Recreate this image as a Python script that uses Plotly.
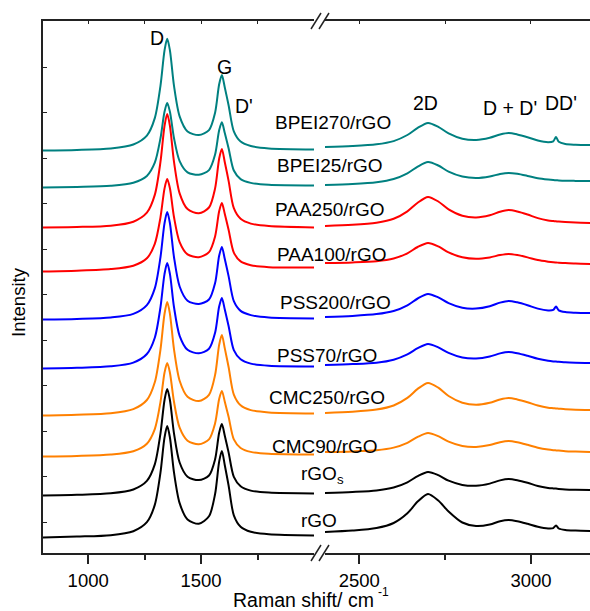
import plotly.graph_objects as go

# Raman shift grids (cm^-1) for the two panels of the broken axis
shift_low = [800, 950, 1100, 1200, 1260, 1295, 1320, 1338, 1350, 1362, 1380, 1405, 1440,
             1490, 1535, 1562, 1580, 1592, 1605, 1622, 1645, 1675, 1720, 1800, 2000]
shift_high = [2400, 2480, 2550, 2600, 2640, 2670, 2700, 2730, 2760, 2800, 2840, 2880,
              2910, 2935, 2960, 2990, 3020, 3050, 3065, 3073, 3081, 3100, 3130, 3172]

# Stacked intensities (offset, arbitrary units), D/G region
bpei270_low = [402.5, 403.1, 404.6, 408.5, 417.4, 434.9, 466.9, 502.4, 514.2, 502.7, 467.4, 436.7, 421.6,
               417.9, 422.9, 440.3, 468.7, 478.0, 465.5, 447.5, 421.6, 411.4, 407.0, 404.6, 403.6]
bpei25_low = [365.4, 366.1, 367.3, 370.3, 377.1, 390.3, 414.5, 441.2, 450.1, 441.3, 415.0, 391.9, 380.7,
              378.2, 382.9, 398.4, 422.7, 430.7, 419.9, 404.5, 382.5, 373.9, 370.1, 368.2, 367.5]
paa250_low = [325.6, 326.0, 327.3, 331.3, 340.3, 358.1, 390.8, 426.9, 439.0, 427.1, 391.3, 359.6, 343.9,
              339.7, 345.5, 364.6, 394.3, 404.0, 390.8, 371.9, 344.8, 334.2, 329.4, 326.9, 325.6]
paa100_low = [281.5, 282.3, 283.9, 287.3, 294.7, 309.2, 335.4, 364.4, 374.0, 364.7, 336.0, 310.9, 298.6,
              295.8, 300.9, 316.6, 341.8, 350.0, 339.0, 323.0, 300.4, 291.6, 287.8, 285.8, 285.5]
pss200_low = [233.5, 234.1, 235.5, 239.1, 247.9, 264.6, 295.5, 329.6, 341.0, 329.8, 296.0, 266.5, 252.3,
              249.0, 253.5, 269.9, 297.2, 306.0, 293.9, 276.6, 251.8, 242.1, 237.9, 235.5, 234.6]
pss70_low = [184.5, 185.2, 186.7, 190.4, 199.0, 215.3, 245.5, 278.9, 289.9, 279.1, 246.0, 217.2, 203.2,
             199.7, 204.2, 220.2, 246.4, 255.0, 243.4, 226.8, 202.9, 193.7, 189.4, 187.3, 186.6]
cmc250_low = [137.5, 138.3, 139.8, 143.9, 153.0, 170.7, 203.2, 239.0, 251.0, 239.2, 203.8, 172.3, 156.3,
              151.9, 158.2, 178.1, 208.1, 218.0, 204.6, 185.7, 158.4, 147.7, 142.9, 140.6, 139.6]
cmc90_low = [96.5, 97.1, 98.5, 101.8, 109.3, 123.9, 150.7, 180.2, 190.0, 180.3, 151.2, 125.3, 112.3,
             108.7, 113.7, 129.7, 154.1, 162.0, 151.3, 135.9, 113.6, 105.0, 101.1, 99.3, 98.5]
rgos_low = [57.5, 58.2, 59.7, 63.5, 72.1, 88.6, 119.2, 152.8, 164.0, 153.0, 119.7, 90.5, 76.3,
            72.9, 77.5, 93.7, 120.3, 129.0, 117.2, 100.4, 76.2, 66.8, 62.4, 60.4, 59.6]
rgo_low = [15.5, 16.4, 17.8, 21.8, 30.8, 48.1, 80.1, 115.3, 126.9, 115.5, 80.7, 49.9, 33.6,
           29.2, 36.7, 59.0, 91.4, 102.0, 87.7, 67.3, 37.7, 26.3, 21.2, 18.7, 17.6]

# Stacked intensities, 2D / D+D' / DD' region
bpei270_high = [406.0, 407.0, 408.7, 411.9, 418.0, 425.1, 430.1, 426.2, 419.6, 414.3, 413.0, 415.2,
                418.5, 420.0, 418.6, 415.8, 412.5, 410.8, 411.7, 416.0, 411.3, 409.0, 408.3, 408.0]
bpei25_high = [367.9, 369.0, 370.8, 374.0, 379.7, 386.4, 391.0, 387.5, 381.3, 376.4, 375.0, 376.5,
               379.0, 380.1, 379.2, 377.1, 374.8, 373.4, 372.9, 372.8, 372.6, 372.3, 372.1, 371.9]
paa250_high = [327.0, 328.2, 330.3, 334.2, 341.7, 350.3, 356.1, 351.5, 343.6, 337.2, 335.5, 337.7,
               341.3, 342.9, 341.5, 338.5, 334.9, 332.6, 332.0, 331.7, 331.4, 330.9, 330.4, 330.1]
paa100_high = [290.0, 290.6, 291.8, 294.5, 299.7, 306.0, 310.1, 306.6, 300.6, 295.7, 294.2, 295.6,
               297.9, 299.0, 297.9, 295.6, 292.9, 291.3, 290.7, 290.5, 290.3, 289.9, 289.4, 289.0]
pss200_high = [236.0, 237.1, 238.9, 242.0, 247.7, 254.5, 259.1, 255.6, 249.8, 245.2, 244.4, 246.8,
               250.4, 252.1, 250.7, 247.8, 244.4, 242.6, 243.1, 246.4, 242.6, 240.9, 240.3, 240.0]
pss70_high = [188.0, 188.9, 190.3, 193.3, 198.6, 204.8, 209.1, 205.7, 200.1, 195.5, 194.5, 196.5,
              199.6, 201.0, 199.8, 197.2, 194.2, 192.2, 191.6, 191.4, 191.3, 190.7, 190.3, 190.1]
cmc250_high = [140.0, 141.2, 143.4, 147.5, 155.1, 164.1, 170.1, 165.3, 157.0, 150.3, 148.2, 150.2,
               153.5, 155.0, 153.6, 150.8, 147.5, 145.3, 144.8, 144.5, 144.3, 143.8, 143.3, 143.1]
cmc90_high = [101.0, 101.6, 102.8, 105.4, 110.2, 116.1, 120.0, 116.8, 111.4, 107.1, 106.1, 107.9,
              110.8, 112.0, 110.8, 108.2, 105.3, 103.4, 102.8, 102.6, 102.4, 101.8, 101.4, 101.0]
rgos_high = [60.0, 61.0, 62.5, 65.5, 70.7, 76.9, 81.1, 77.9, 72.3, 68.1, 67.2, 69.4,
             72.6, 74.0, 72.8, 70.2, 67.0, 65.1, 64.6, 64.4, 64.1, 63.6, 63.3, 63.1]
rgo_high = [21.0, 22.4, 24.9, 30.0, 39.7, 51.4, 59.1, 52.5, 41.5, 30.5, 27.0, 28.5,
            31.8, 33.0, 31.8, 29.2, 26.3, 24.6, 24.9, 27.5, 24.5, 23.0, 22.4, 22.1]

sample_names = ["BPEI270/rGO", "BPEI25/rGO", "PAA250/rGO", "PAA100/rGO", "PSS200/rGO",
                "PSS70/rGO", "CMC250/rGO", "CMC90/rGO", "rGO<sub>s</sub>", "rGO"]
tick_low = [1000, 1500]
tick_low_minor = [1250, 1750]
tick_high = [2500, 3000]
tick_high_minor = [2750]

TEAL, RED, BLUE, ORANGE, BLACK = "#008080", "#FF0000", "#0000FF", "#FF8000", "#000000"
colors = [TEAL, TEAL, RED, RED, BLUE, BLUE, ORANGE, ORANGE, BLACK, BLACK]
lows = [bpei270_low, bpei25_low, paa250_low, paa100_low, pss200_low,
        pss70_low, cmc250_low, cmc90_low, rgos_low, rgo_low]
highs = [bpei270_high, bpei25_high, paa250_high, paa100_high, pss200_high,
         pss70_high, cmc250_high, cmc90_high, rgos_high, rgo_high]

FONT = "Arial, 'Liberation Sans', sans-serif"
AX = "#222222"
W, H = 590, 611
L, T, B = 43, 21, 58
PW, PH = W - L, H - T - B


def px(x):
    return (x - L) / PW


def py(y):
    return (H - B - y) / PH


fig = go.Figure()
for name, c, lo, hi in zip(sample_names, colors, lows, highs):
    fig.add_trace(go.Scatter(x=shift_low, y=lo, mode="lines", xaxis="x", yaxis="y",
                             line=dict(color=c, width=2, shape="spline", smoothing=0.8),
                             name=name, showlegend=False, hoverinfo="skip"))
    fig.add_trace(go.Scatter(x=shift_high, y=hi, mode="lines", xaxis="x2", yaxis="y",
                             line=dict(color=c, width=2, shape="spline", smoothing=0.8),
                             name=name, showlegend=False, hoverinfo="skip"))

d_left = [0, px(314)]
d_right = [px(325), 1]

bottom_common = dict(showline=True, linecolor=AX, linewidth=1.5, ticks="outside", ticklen=9,
                     tickwidth=1.5, tickcolor=AX, showgrid=False, zeroline=False, anchor="y",
                     tickfont=dict(family=FONT, size=18.5, color="#000"), tickmode="array",
                     ticklabelstandoff=1)
top_common = dict(showline=True, linecolor=AX, linewidth=1.5, ticks="inside", ticklen=3,
                  tickwidth=1.2, tickcolor=AX, showgrid=False, zeroline=False, anchor="y",
                  side="top", showticklabels=False, tickmode="array")

fig.update_layout(
    width=W, height=H,
    margin=dict(l=L, r=0, t=T, b=B, pad=0),
    paper_bgcolor="white", plot_bgcolor="white",
    xaxis=dict(domain=d_left, range=[800, 2000], tickvals=tick_low,
               ticktext=[str(v) for v in tick_low],
               minor=dict(tickmode="array", tickvals=tick_low_minor, ticks="outside", ticklen=5,
                          tickwidth=1.5, tickcolor=AX),
               **bottom_common),
    xaxis2=dict(domain=d_right, range=[2400, 3172], tickvals=tick_high,
                ticktext=[str(v) for v in tick_high],
                minor=dict(tickmode="array", tickvals=tick_high_minor, ticks="outside", ticklen=5,
                           tickwidth=1.5, tickcolor=AX),
                **bottom_common),
    xaxis3=dict(overlaying="x", matches="x", domain=d_left, range=[800, 2000],
                tickvals=tick_low + tick_low_minor, **top_common),
    xaxis4=dict(overlaying="x2", matches="x2", domain=d_right, range=[2400, 3172],
                tickvals=tick_high + tick_high_minor, **top_common),
    yaxis=dict(domain=[0, 1], range=[0, 532], showline=True, linecolor=AX, linewidth=1.5,
               ticks="inside", ticklen=4, tickwidth=1.2, tickcolor=AX, tick0=31, dtick=45.5,
               showticklabels=False, showgrid=False, zeroline=False, anchor="x"),
)

# invisible anchors so the top overlay axes are drawn
fig.add_trace(go.Scatter(x=[800], y=[-10], xaxis="x3", yaxis="y", mode="markers",
                         marker=dict(opacity=0), showlegend=False, hoverinfo="skip"))
fig.add_trace(go.Scatter(x=[2400], y=[-10], xaxis="x4", yaxis="y", mode="markers",
                         marker=dict(opacity=0), showlegend=False, hoverinfo="skip"))

# axis-break marks on bottom and top frame lines
shapes = []
for (ya, yb) in [(561, 545), (29, 13)]:
    for x0 in (311, 319):
        shapes.append(dict(type="line", xref="paper", yref="paper",
                           x0=px(x0), y0=py(ya), x1=px(x0 + 10), y1=py(yb),
                           line=dict(color=AX, width=1.5)))
fig.update_layout(shapes=shapes)

ann = []
# sample labels
label_pos = [(273, 123), (275, 165), (273, 209), (275, 254), (278, 302),
             (275, 355), (267, 397), (270, 446), (299, 475), (299, 520)]
for name, (x, y) in zip(sample_names, label_pos):
    ann.append(dict(text=name, x=px(x), y=py(y), xref="paper", yref="paper",
                    xanchor="left", yanchor="middle", showarrow=False,
                    font=dict(family=FONT, size=19, color="#000")))
# band labels
bands = [("D", 157, 38), ("G", 224, 67), ("D'", 244, 106), ("2D", 425, 103),
         ("D + D'", 510, 108), ("DD'", 561, 103)]
for t, x, y in bands:
    ann.append(dict(text=t, x=px(x), y=py(y), xref="paper", yref="paper",
                    xanchor="center", yanchor="middle", showarrow=False,
                    font=dict(family=FONT, size=19.5, color="#000")))
# axis titles
ann.append(dict(text="Intensity", x=px(18), y=py(302), xref="paper", yref="paper",
                textangle=-90, xanchor="center", yanchor="middle", showarrow=False,
                font=dict(family=FONT, size=18.5, color="#000")))
ann.append(dict(text="Raman shift/ cm", x=px(375), y=py(599.5), xref="paper", yref="paper",
                xanchor="right", yanchor="middle", showarrow=False, borderpad=0,
                font=dict(family=FONT, size=19.5, color="#000")))
ann.append(dict(text="-1", x=px(377), y=py(592), xref="paper", yref="paper",
                xanchor="left", yanchor="middle", showarrow=False, borderpad=0,
                font=dict(family=FONT, size=12, color="#000")))
fig.update_layout(annotations=ann)

fig.write_html("out.html")
